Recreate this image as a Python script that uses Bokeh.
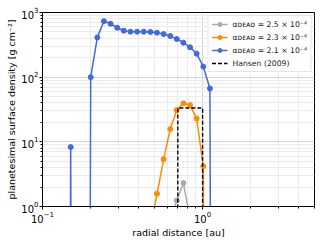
from bokeh.plotting import figure
from bokeh.models import ColumnDataSource, Range1d, FixedTicker, Legend, LegendItem
from bokeh.embed import file_html
from bokeh.resources import INLINE

# ---- data ----
r_au = [0.136, 0.150, 0.165, 0.182, 0.200, 0.220, 0.242, 0.266, 0.293, 0.322,
        0.354, 0.390, 0.429, 0.472, 0.519, 0.571, 0.628, 0.690, 0.759, 0.835,
        0.918, 1.010, 1.111, 1.222]
sigma_a25 = [0, 0, 0, 0, 0, 0, 0, 0, 0, 0, 0, 0, 0, 0, 0, 0,
             0.55, 1.24, 2.3, 0.63, 0.10, 0, 0, 0]
sigma_a23 = [0, 0, 0, 0, 0, 0, 0, 0, 0, 0, 0, 0, 0.12, 0.45, 1.57, 5.4,
             15.8, 31.0, 39.4, 37.0, 22.9, 4.2, 0, 0]
sigma_a21 = [0, 8.3, 0, 0, 100, 412, 735, 670, 581, 523, 505, 505, 505, 500,
             487, 464, 432, 389, 341, 290, 231, 146, 67, 0]
hansen_r = [0.7, 0.7, 1.0, 1.0]
hansen_sigma = [0, 33.3, 33.3, 0]

labels = ["α\u1d05\u1d07\u1d00\u1d05 = 2.5 × 10⁻⁴",
          "α\u1d05\u1d07\u1d00\u1d05 = 2.3 × 10⁻⁴",
          "α\u1d05\u1d07\u1d00\u1d05 = 2.1 × 10⁻⁴",
          "Hansen (2009)"]
colors = ["#aaaaaa", "#ff8c00", "#4169e1"]

x_major = [0.01, 0.1, 1, 10]
x_minor = [0.2, 0.3, 0.4, 0.5, 0.6, 0.7, 0.8, 0.9, 2, 3, 4, 5, 6, 7, 8, 9]
y_major = [0.1, 1, 10, 100, 1000, 10000]
y_minor = [2, 3, 4, 5, 6, 7, 8, 9, 20, 30, 40, 50, 60, 70, 80, 90,
           200, 300, 400, 500, 600, 700, 800, 900]

FLOOR = 1e-30  # zeros on a log axis drop straight down (as matplotlib clipping)

p = figure(width=320, height=240, x_axis_type="log", y_axis_type="log",
           x_range=Range1d(0.1, 5), y_range=Range1d(1, 1000),
           output_backend="svg", toolbar_location=None,
           min_border_left=42, min_border_right=6, min_border_top=12,
           min_border_bottom=33)

items = []
for sig, col, lab in zip([sigma_a25, sigma_a23, sigma_a21], colors, labels[:3]):
    line_src = ColumnDataSource(dict(x=r_au, y=[max(v, FLOOR) for v in sig]))
    pts = [(x, v) for x, v in zip(r_au, sig) if v > 0]
    pt_src = ColumnDataSource(dict(x=[a for a, _ in pts], y=[b for _, b in pts]))
    ln = p.line("x", "y", source=line_src, line_color=col, line_width=1.5)
    sc = p.scatter("x", "y", source=pt_src, size=5, fill_color=col, line_color=col)
    items.append(LegendItem(label=lab, renderers=[ln, sc]))

h_src = ColumnDataSource(dict(x=hansen_r, y=[max(v, FLOOR) for v in hansen_sigma]))
hl = p.line("x", "y", source=h_src, line_color="black", line_width=1.4, line_dash="4 2")
items.append(LegendItem(label=labels[3], renderers=[hl]))

legend = Legend(items=items, location="top_right", label_text_font="DejaVu Sans",
                label_text_font_size="7.7px", label_text_color="#222222",
                label_height=10, glyph_height=10,
                glyph_width=16, spacing=3, padding=3, margin=3, label_standoff=5,
                border_line_color="#cccccc", background_fill_alpha=0.85)
p.add_layout(legend)

for ax, maj, mino in [(p.xaxis[0], x_major, x_minor), (p.yaxis[0], y_major, y_minor)]:
    ax.ticker = FixedTicker(ticks=maj, minor_ticks=mino)
    ax.major_label_text_font = "DejaVu Sans"
    ax.major_label_text_font_size = "10px"
    ax.major_label_text_color = "black"
    ax.major_label_text_line_height = 1.0
    ax.axis_label_text_font = "DejaVu Sans"
    ax.axis_label_text_font_size = "9.5px"
    ax.axis_label_text_font_style = "normal"
    ax.axis_label_text_color = "black"
    ax.axis_label_text_line_height = 1.0
    ax.axis_line_color = "black"
    ax.major_tick_line_color = "black"
    ax.minor_tick_line_color = "black"
    ax.major_tick_out = 3
    ax.major_tick_in = 0
    ax.minor_tick_out = 2
    ax.minor_tick_in = 0
    ax.major_label_standoff = 1
    ax.axis_label_standoff = 1

p.xaxis.axis_label = "radial distance [au]"
p.yaxis.axis_label = "planetesimal surface density [g cm⁻²]"

p.grid.grid_line_color = "#d4d4d4"
p.grid.minor_grid_line_color = "#ebebeb"
p.outline_line_color = "black"
p.outline_line_width = 1
p.background_fill_color = "white"

open("out.html", "w").write(file_html(p, INLINE))
